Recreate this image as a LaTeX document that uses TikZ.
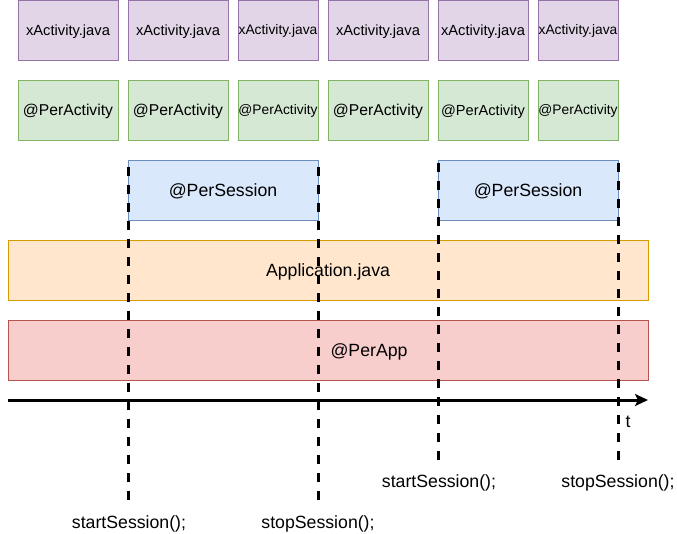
\documentclass[tikz,border=0pt]{standalone}
\usepackage{fontspec}
\setmainfont{Liberation Sans}
\usetikzlibrary{arrows.meta}
\definecolor{purfill}{HTML}{E1D5E7}
\definecolor{purline}{HTML}{9673A6}
\definecolor{grnfill}{HTML}{D5E8D4}
\definecolor{grnline}{HTML}{82B366}
\definecolor{blufill}{HTML}{DAE8FC}
\definecolor{bluline}{HTML}{6C8EBF}
\definecolor{orafill}{HTML}{FFE6CC}
\definecolor{oraline}{HTML}{D79B00}
\definecolor{redfill}{HTML}{F8CECC}
\definecolor{redline}{HTML}{B85450}
\begin{document}
\begin{tikzpicture}[x=1pt,y=-1pt,
  box/.style={draw, rectangle, line width=1pt, inner sep=0pt, outer sep=0pt, anchor=center, text=black, minimum height=60pt, text depth=0pt},
  big/.style={font=\fontsize{17.7}{20}\selectfont, text height=12.7pt},
  actbox/.style={box, draw=purline, fill=purfill},
  annbox/.style={box, draw=grnline, fill=grnfill},
  sesbox/.style={box, big, draw=bluline, fill=blufill},
  appbox/.style={box, big, draw=oraline, fill=orafill},
  perbox/.style={box, big, draw=redline, fill=redfill},
  fA/.style={font=\fontsize{14.7}{17}\selectfont, text height=10.5pt},
  fB/.style={font=\fontsize{13.8}{16}\selectfont, text height=9.9pt},
  fC/.style={font=\fontsize{15.7}{18}\selectfont, text height=11.2pt},
  fD/.style={font=\fontsize{14.6}{17}\selectfont, text height=10.5pt},
  lbl/.style={inner sep=0pt, anchor=center, font=\fontsize{17.7}{20}\selectfont},
  boxtext/.style={inner sep=0pt, anchor=center, big, text depth=0pt},
  sessline/.style={line width=3pt, dash pattern=on 9pt off 9pt},
  axisline/.style={line width=3pt, -{Stealth[length=13pt,width=12pt,inset=3pt]}}
]
\useasboundingbox (0,0) rectangle (677,533);
% activity classes
\node[actbox, fA, minimum width=100pt] (a1) at (68,30) {xActivity.java};
\node[actbox, fA, minimum width=100pt] (a2) at (178,30) {xActivity.java};
\node[actbox, fB, minimum width=80pt] (a3) at (278,30) {xActivity.java};
\node[actbox, fA, minimum width=100pt] (a4) at (378,30) {xActivity.java};
\node[actbox, fA, minimum width=90pt] (a5) at (483,30) {xActivity.java};
\node[actbox, fB, minimum width=80pt] (a6) at (578,30) {xActivity.java};
% per activity scopes
\node[annbox, fC, minimum width=100pt] (p1) at (68,110) {@PerActivity};
\node[annbox, fC, minimum width=100pt] (p2) at (178,110) {@PerActivity};
\node[annbox, fB, minimum width=80pt] (p3) at (278,110) {@PerActivity};
\node[annbox, fC, minimum width=100pt] (p4) at (378,110) {@PerActivity};
\node[annbox, fD, minimum width=90pt] (p5) at (483,110) {@PerActivity};
\node[annbox, fB, minimum width=80pt] (p6) at (578,110) {@PerActivity};
% sessions
\node[sesbox, minimum width=190pt] (s1) at (223,190) {@PerSession};
\node[sesbox, minimum width=180pt] (s2) at (528,190) {@PerSession};
% application
\node[appbox, minimum width=640pt] (app) at (328,270) {Application.java};
\node[perbox, minimum width=640pt] (papp) at (328,350) {};
\node[boxtext] (papptext) at (369,350) {@PerApp};
% time axis
\coordinate (ax0) at (8,400);
\coordinate (ax1) at (648,400);
\draw[axisline] (ax0) -- (ax1);
\node[lbl] (tl) at (628,422) {t};
% session boundaries
\coordinate (b1) at (128,500);
\coordinate (b2) at (318,500);
\coordinate (b3) at (438,460);
\coordinate (b4) at (618,460);
\draw[sessline] (b1) -- (s1.north west);
\draw[sessline] (b2) -- (s1.north east);
\draw[sessline] (b3) -- (s2.north west);
\draw[sessline] (b4) -- (s2.north east);
\node[lbl] (l1) at (129,524) {startSession();};
\node[lbl] (l2) at (318,524) {stopSession();};
\node[lbl] (l3) at (439,483) {startSession();};
\node[lbl] (l4) at (618,483) {stopSession();};
\end{tikzpicture}
\end{document}
